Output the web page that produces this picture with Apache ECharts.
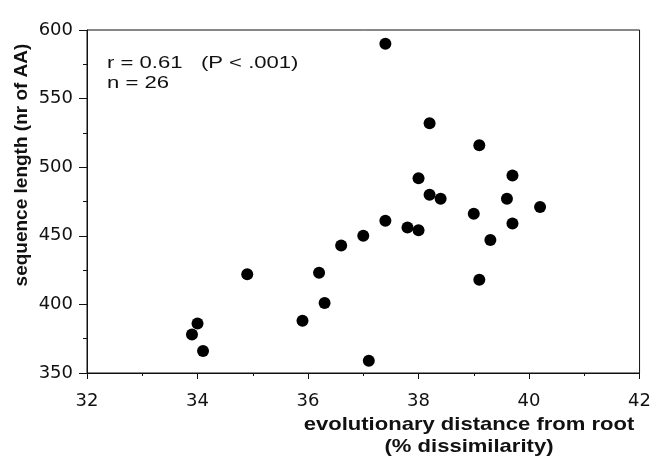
<!DOCTYPE html>
<html>
<head>
<meta charset="utf-8">
<script src="https://cdn.jsdelivr.net/npm/echarts@6/dist/echarts.min.js"></script>
<style>
  html, body { margin: 0; padding: 0; background: #fff; }
  #chart { width: 654px; height: 461px; }
</style>
</head>
<body>
<div id="chart"></div>
<script>
// evolutionary distance from root (% dissimilarity)
const distance = [
  33.9, 34.0, 34.1, 34.9, 35.9, 36.2, 36.3,
  37.4, 38.2,
  36.6, 37.0, 37.4, 37.8, 38.0, 38.0, 38.2, 38.4,
  39.1, 39.7, 39.6, 39.0, 40.2, 39.7, 39.3, 39.1,
  37.1
];
// sequence length (number of amino acids)
const seqLength = [
  378, 386, 366, 422, 388, 423, 401,
  590, 532,
  443, 450, 461, 456, 454, 492, 480, 477,
  516, 494, 477, 466, 471, 459, 447, 418,
  359
];
const xTicks = { min: 32, max: 42, step: 2 };
const yTicks = { min: 350, max: 600, step: 50 };
const statsLines = ['r = 0.61   (P < .001)', 'n = 26'];
const xTitle = ['evolutionary distance from root', '(% dissimilarity)'];
const yTitle = 'sequence length (nr of AA)';

const points = distance.map((d, i) => [d, seqLength[i]]);
const ink = '#111';
const tickFont = { color: ink, fontFamily: 'DejaVu Sans', fontSize: 18 };

const chart = echarts.init(document.getElementById('chart'), null, { renderer: 'canvas' });
chart.setOption({
  animation: false,
  backgroundColor: '#fff',
  grid: {
    left: 87, right: 12, top: 30, bottom: 88,
    show: true, borderColor: ink, borderWidth: 1
  },
  xAxis: {
    type: 'value',
    min: xTicks.min, max: xTicks.max, interval: xTicks.step,
    axisLine: { show: true, onZero: false, lineStyle: { color: ink, width: 1 } },
    axisTick: { show: true, length: 6, lineStyle: { color: ink } },
    minorTick: { show: true, splitNumber: 2, length: 3, lineStyle: { color: ink } },
    splitLine: { show: false },
    axisLabel: Object.assign({ margin: 19 }, tickFont)
  },
  yAxis: {
    type: 'value',
    min: yTicks.min, max: yTicks.max, interval: yTicks.step,
    axisLine: { show: true, onZero: false, lineStyle: { color: ink, width: 1 } },
    axisTick: { show: true, length: 8, lineStyle: { color: ink } },
    minorTick: { show: true, splitNumber: 2, length: 4, lineStyle: { color: ink } },
    splitLine: { show: false },
    axisLabel: Object.assign({ margin: 14 }, tickFont)
  },
  series: [{
    type: 'scatter',
    data: points,
    symbol: 'circle',
    symbolSize: 12,
    itemStyle: { color: '#000', opacity: 1 }
  }],
  graphic: [
    {
      type: 'text', left: 107, top: 54, scaleX: 1.38,
      style: {
        text: statsLines.join('\n'), fill: ink,
        font: '16px "Liberation Sans", Arial, sans-serif', lineHeight: 20
      }
    },
    {
      type: 'text', x: 469, y: 436, scaleX: 1.16,
      style: {
        text: xTitle.join('\n'), fill: ink, align: 'center', verticalAlign: 'middle',
        font: 'bold 19px "Liberation Sans", Arial, sans-serif', lineHeight: 22
      }
    },
    {
      type: 'text', x: 22, y: 165, rotation: Math.PI / 2,
      style: {
        text: yTitle, fill: ink, align: 'center', verticalAlign: 'middle',
        font: 'bold 19px "Liberation Sans", Arial, sans-serif'
      }
    }
  ]
});
</script>
</body>
</html>
